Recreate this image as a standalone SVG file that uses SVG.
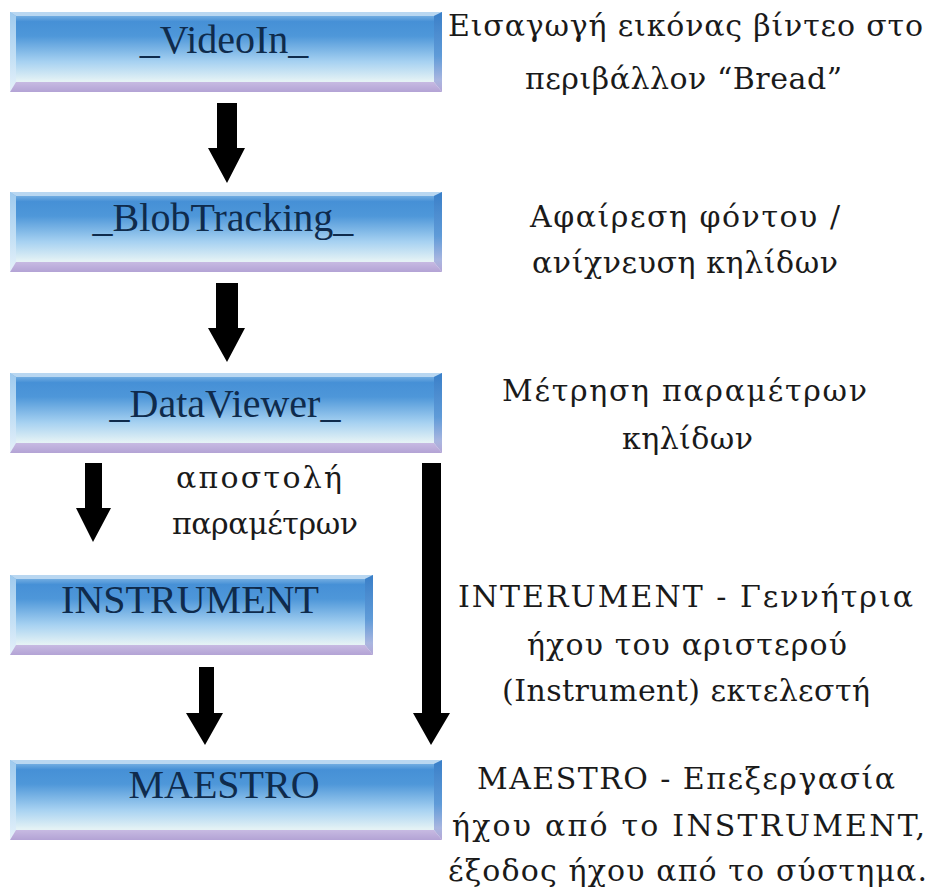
<svg xmlns="http://www.w3.org/2000/svg" width="931" height="895" viewBox="0 0 931 895">
  <defs>
    <!-- main face of the bevelled boxes: blue on top fading to near white -->
    <linearGradient id="face" x1="0" y1="0" x2="0" y2="1">
      <stop offset="0" stop-color="#8fc0e9"/>
      <stop offset="0.12" stop-color="#4690d6"/>
      <stop offset="0.3" stop-color="#4e97d9"/>
      <stop offset="0.62" stop-color="#a6d1f1"/>
      <stop offset="0.86" stop-color="#e4f2f5"/>
      <stop offset="1" stop-color="#eef6fb"/>
    </linearGradient>
    <linearGradient id="leftBevel" x1="0" y1="0" x2="0" y2="1">
      <stop offset="0" stop-color="#9fcaee"/>
      <stop offset="0.6" stop-color="#c6e1f5"/>
      <stop offset="1" stop-color="#e6f1fa"/>
    </linearGradient>
    <linearGradient id="rightBevel" x1="0" y1="0" x2="0" y2="1">
      <stop offset="0" stop-color="#3a7fc8"/>
      <stop offset="0.55" stop-color="#5f9bd8"/>
      <stop offset="0.85" stop-color="#a9b6e0"/>
      <stop offset="1" stop-color="#b4a6d6"/>
    </linearGradient>
    <linearGradient id="bottomBevel" x1="0" y1="0" x2="0" y2="1">
      <stop offset="0" stop-color="#c7bae2"/>
      <stop offset="1" stop-color="#b3a3d5"/>
    </linearGradient>
    <style>
      .face { fill: url(#face); }
      .top { fill: #b9d7f1; }
      .left { fill: url(#leftBevel); }
      .right { fill: url(#rightBevel); }
      .bottom { fill: url(#bottomBevel); }
      .label { font-family: "Liberation Serif", "Times New Roman", serif; font-size: 40px; fill: #0f2b4c; text-anchor: middle; }
      .note { font-family: "DejaVu Serif", "Liberation Serif", serif; font-size: 30px; fill: #1a1a1a; }
      .arrow { fill: #000; }
    </style>
  </defs>

  <rect width="931" height="895" fill="#ffffff"/>

  <!-- processing blocks -->
  <g id="videoin">
    <rect class="face" x="10" y="12" width="432" height="80"/>
    <polygon class="top" points="10,12 442,12 434,16 16,16"/>
    <polygon class="left" points="10,12 16,16 16,82 10,92"/>
    <polygon class="right" points="442,12 442,92 434,82 434,16"/>
    <polygon class="bottom" points="10,92 16,82 434,82 442,92"/>
    <text class="label" x="224" y="53">_VideoIn_</text>
  </g>

  <g id="blobtracking">
    <rect class="face" x="10" y="192" width="432" height="80"/>
    <polygon class="top" points="10,192 442,192 434,196 16,196"/>
    <polygon class="left" points="10,192 16,196 16,262 10,272"/>
    <polygon class="right" points="442,192 442,272 434,262 434,196"/>
    <polygon class="bottom" points="10,272 16,262 434,262 442,272"/>
    <text class="label" x="223" y="231">_BlobTracking_</text>
  </g>

  <g id="dataviewer">
    <rect class="face" x="10" y="373" width="432" height="80"/>
    <polygon class="top" points="10,373 442,373 434,377 16,377"/>
    <polygon class="left" points="10,373 16,377 16,443 10,453"/>
    <polygon class="right" points="442,373 442,453 434,443 434,377"/>
    <polygon class="bottom" points="10,453 16,443 434,443 442,453"/>
    <text class="label" x="225" y="417">_DataViewer_</text>
  </g>

  <g id="instrument">
    <rect class="face" x="10" y="575" width="363" height="80"/>
    <polygon class="top" points="10,575 373,575 365,579 16,579"/>
    <polygon class="left" points="10,575 16,579 16,645 10,655"/>
    <polygon class="right" points="373,575 373,655 365,645 365,579"/>
    <polygon class="bottom" points="10,655 16,645 365,645 373,655"/>
    <text class="label" x="190" y="613">INSTRUMENT</text>
  </g>

  <g id="maestro">
    <rect class="face" x="10" y="760" width="432" height="80"/>
    <polygon class="top" points="10,760 442,760 434,764 16,764"/>
    <polygon class="left" points="10,760 16,764 16,830 10,840"/>
    <polygon class="right" points="442,760 442,840 434,830 434,764"/>
    <polygon class="bottom" points="10,840 16,830 434,830 442,840"/>
    <text class="label" x="224" y="798">MAESTRO</text>
  </g>

  <!-- block arrows -->
  <g id="connectors">
    <polygon class="arrow" points="217,103 237,103 237,148 245,148 227,183 208,148 217,148"/>
    <polygon class="arrow" points="216,283 238,283 238,328 245,328 227,362 208,328 216,328"/>
    <polygon class="arrow" points="85,463 102,463 102,508 111,508 93,542 76,508 85,508"/>
    <polygon class="arrow" points="199,667 214,667 214,713 223,713 205,745 186,713 199,713"/>
    <polygon class="arrow" points="422,463 441,463 441,713 450,713 431,745 413,713 422,713"/>
    <text class="note" x="176" y="488" textLength="166" lengthAdjust="spacing">αποστολή</text>
    <text class="note" x="172" y="534" textLength="186" lengthAdjust="spacing">παραμέτρων</text>
  </g>

  <!-- descriptions of each stage -->
  <g id="descriptions">
    <text class="note" x="448" y="36" textLength="475" lengthAdjust="spacing">Εισαγωγή εικόνας βίντεο στο</text>
    <text class="note" x="525" y="89" textLength="317" lengthAdjust="spacing">περιβάλλον “Bread”</text>
    <text class="note" x="530" y="227" textLength="310" lengthAdjust="spacing">Αφαίρεση φόντου /</text>
    <text class="note" x="532" y="273" textLength="306" lengthAdjust="spacing">ανίχνευση κηλίδων</text>
    <text class="note" x="502" y="401" textLength="365" lengthAdjust="spacing">Μέτρηση παραμέτρων</text>
    <text class="note" x="622" y="449" textLength="131" lengthAdjust="spacing">κηλίδων</text>
    <text class="note" x="458" y="607" textLength="455" lengthAdjust="spacing">INTERUMENT - Γεννήτρια</text>
    <text class="note" x="527" y="655" textLength="320" lengthAdjust="spacing">ήχου του αριστερού</text>
    <text class="note" x="502" y="701" textLength="368" lengthAdjust="spacing">(Instrument) εκτελεστή</text>
    <text class="note" x="477" y="789" textLength="418" lengthAdjust="spacing">MAESTRO - Επεξεργασία</text>
    <text class="note" x="452" y="836" textLength="473" lengthAdjust="spacing">ήχου από το INSTRUMENT,</text>
    <text class="note" x="448" y="881" textLength="479" lengthAdjust="spacing">έξοδος ήχου από το σύστημα.</text>
  </g>
</svg>
